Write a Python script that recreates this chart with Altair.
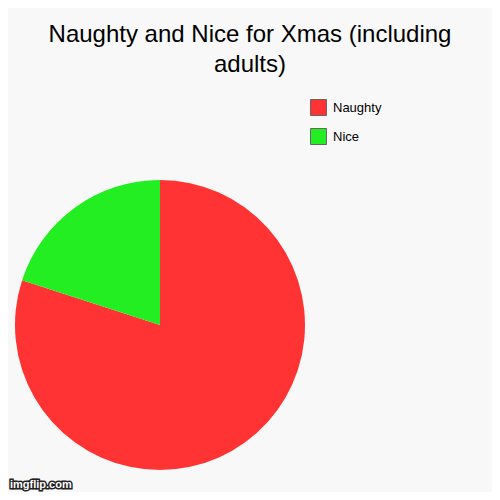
import altair as alt
import pandas as pd

categories = ["Naughty", "Nice"]
values = [80, 20]
colors = ["#ff3333", "#22ee22"]
order = [0, 1]
title_text = ["Naughty and Nice for Xmas (including\nadults)"]
watermark = ["imgflip.com"]

df = pd.DataFrame({"category": categories, "value": values, "order": order})
tdf = pd.DataFrame({"t": title_text})
wm = pd.DataFrame({"t": watermark})

pie = alt.Chart(df).mark_arc(radius=145, stroke=None).encode(
    theta=alt.Theta("value:Q", stack=True),
    order=alt.Order("order:Q"),
    color=alt.Color(
        "category:N",
        scale=alt.Scale(domain=categories, range=colors),
        legend=alt.Legend(
            title=None,
            orient="none",
            legendX=302,
            legendY=91,
            symbolType="square",
            symbolSize=256,
            symbolStrokeColor="#666666",
            symbolStrokeWidth=1,
            symbolOpacity=1,
            labelFontSize=13,
            labelFont="Liberation Sans",
            labelColor="#000000",
            labelOffset=6,
            rowPadding=8,
        ),
    ),
    x=alt.value(152),
    y=alt.value(317),
)

title = alt.Chart(tdf).mark_text(
    align="center", baseline="alphabetic", font="Liberation Sans", fontSize=24,
    lineBreak="\n", lineHeight=30, color="#000000"
).encode(text="t:N", x=alt.value(242), y=alt.value(34))

wm_stroke = alt.Chart(wm).mark_text(
    align="left", baseline="alphabetic", font="Liberation Sans", fontSize=11,
    fontWeight="bold", stroke="#222222", strokeWidth=3, fill="#222222"
).encode(text="t:N", x=alt.value(2), y=alt.value(480))

wm_fill = alt.Chart(wm).mark_text(
    align="left", baseline="alphabetic", font="Liberation Sans", fontSize=11,
    fontWeight="bold", fill="#ffffff"
).encode(text="t:N", x=alt.value(2), y=alt.value(480))

chart = alt.layer(pie, title, wm_stroke, wm_fill).properties(
    width=484,
    height=484,
    autosize=alt.AutoSizeParams(type="none"),
    padding=0,
    background="#f8f8f8",
).configure_view(stroke=None)

chart.save("out.html", embed_options={"renderer": "svg", "actions": False})
